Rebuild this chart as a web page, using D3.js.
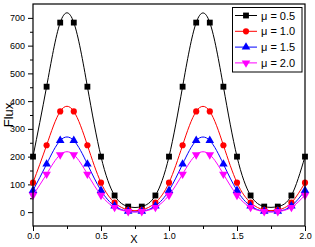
<!DOCTYPE html>
<html><head><meta charset="utf-8">
<script src="https://cdn.jsdelivr.net/npm/d3@7"></script>
<style>
html,body{margin:0;padding:0;background:#fff;}
svg{display:block;font-family:"Liberation Sans",Arial,sans-serif;}
</style></head>
<body>
<svg id="c" width="315" height="247"></svg>
<script>
const xValues = [0.0,0.1,0.2,0.3,0.4,0.5,0.6,0.7,0.8,0.9,1.0,1.1,1.2,1.3,1.4,1.5,1.6,1.7,1.8,1.9,2.0];
const mu05 = [200,452,683,683,452,200,60,20,20,60,200,452,683,683,452,200,60,20,20,60,200];
const mu10 = [106,241,363,363,241,106,34,8,8,34,106,241,363,363,241,106,34,8,8,34,106];
const mu15 = [78,173,258,258,173,78,22,3,3,22,78,173,258,258,173,78,22,3,3,22,78];
const mu20 = [61,137,207,207,137,61,17,2,2,17,61,137,207,207,137,61,17,2,2,17,61];
const seriesNames = ["\u03bc = 0.5","\u03bc = 1.0","\u03bc = 1.5","\u03bc = 2.0"];
const seriesColors = ["#000000","#ff0000","#0000ff","#ff00ff"];
const seriesSymbols = ["square","circle","triangleUp","triangleDown"];
const yMajorTicks = [0,100,200,300,400,500,600,700];
const yMinorTicks = [50,150,250,350,450,550,650];
const xMajorTicks = [0.0,0.5,1.0,1.5,2.0];
const xMinorTicks = [0.25,0.75,1.25,1.75];

const svg = d3.select("#c");
const L=33,R=305,T=4,B=226;
const x = d3.scaleLinear().domain([0,2]).range([L,R]);
const y = d3.scaleLinear().domain([-50,750]).range([B,T]);

function sym(type,size){
  if(type==="square") return d3.symbol(d3.symbolSquare,size)();
  if(type==="circle") return d3.symbol(d3.symbolCircle,size)();
  if(type==="triangleUp") return d3.symbol(d3.symbolTriangle,size)();
  return d3.symbol(d3.symbolTriangle,size)();
}

// axes
const gy = svg.append("g").attr("transform",`translate(${L},0)`)
  .call(d3.axisLeft(y).tickValues(yMajorTicks).tickSize(5).tickPadding(3).tickFormat(d3.format("d")));
svg.append("g").attr("transform",`translate(${L},0)`)
  .call(d3.axisLeft(y).tickValues(yMinorTicks).tickSize(3).tickFormat(""));
const gx = svg.append("g").attr("transform",`translate(0,${B})`)
  .call(d3.axisBottom(x).tickValues(xMajorTicks).tickSize(5).tickPadding(2).tickFormat(d3.format(".1f")));
svg.append("g").attr("transform",`translate(0,${B})`)
  .call(d3.axisBottom(x).tickValues(xMinorTicks).tickSize(3).tickFormat(""));
svg.selectAll(".domain").remove();
svg.selectAll(".tick line").attr("stroke","#000");
svg.selectAll(".tick text").attr("font-size","9px").attr("fill","#000")
  .attr("font-family","Liberation Sans, Arial, sans-serif");

// series
const allSeries = [mu05,mu10,mu15,mu20];
const line = d3.line().x(d=>x(d[0])).y(d=>y(d[1])).curve(d3.curveNatural);
allSeries.forEach((vals,i)=>{
  const pts = xValues.map((xv,j)=>[xv,vals[j]]);
  svg.append("path").attr("d",line(pts)).attr("fill","none")
    .attr("stroke",seriesColors[i]).attr("stroke-width",1);
  const size = seriesSymbols[i]==="square"?34:(seriesSymbols[i]==="circle"?30:32);
  svg.append("g").selectAll("path").data(pts).join("path")
    .attr("d",sym(seriesSymbols[i],size))
    .attr("transform",d=>`translate(${x(d[0])},${y(d[1])})${seriesSymbols[i]==="triangleDown"?" rotate(180)":""}`)
    .attr("fill",seriesColors[i]);
});

// frame
svg.append("rect").attr("x",L).attr("y",T).attr("width",R-L).attr("height",B-T)
  .attr("fill","none").attr("stroke","#000").attr("stroke-width",1.2);

// legend
const lg = svg.append("g");
lg.append("rect").attr("x",232.5).attr("y",7.5).attr("width",69.5).attr("height",64.5)
  .attr("fill","#fff").attr("stroke","#000").attr("stroke-width",1);
seriesNames.forEach((n,i)=>{
  const cy = 15.5+i*15.8;
  lg.append("line").attr("x1",235).attr("x2",257).attr("y1",cy).attr("y2",cy)
    .attr("stroke",seriesColors[i]).attr("stroke-width",1);
  const size = seriesSymbols[i]==="square"?34:(seriesSymbols[i]==="circle"?30:32);
  lg.append("path").attr("d",sym(seriesSymbols[i],size))
    .attr("transform",`translate(246,${cy})${seriesSymbols[i]==="triangleDown"?" rotate(180)":""}`)
    .attr("fill",seriesColors[i]);
  lg.append("text").attr("x",261).attr("y",cy+4).attr("font-size","11px").text(n);
});

// axis titles
svg.append("text").attr("x",134).attr("y",243).attr("text-anchor","middle")
  .attr("font-size","11px").text("X");
svg.append("text").attr("transform",`translate(13,115) rotate(-90)`).attr("text-anchor","middle")
  .attr("font-size","13px").text("Flux");
</script>
</body></html>
